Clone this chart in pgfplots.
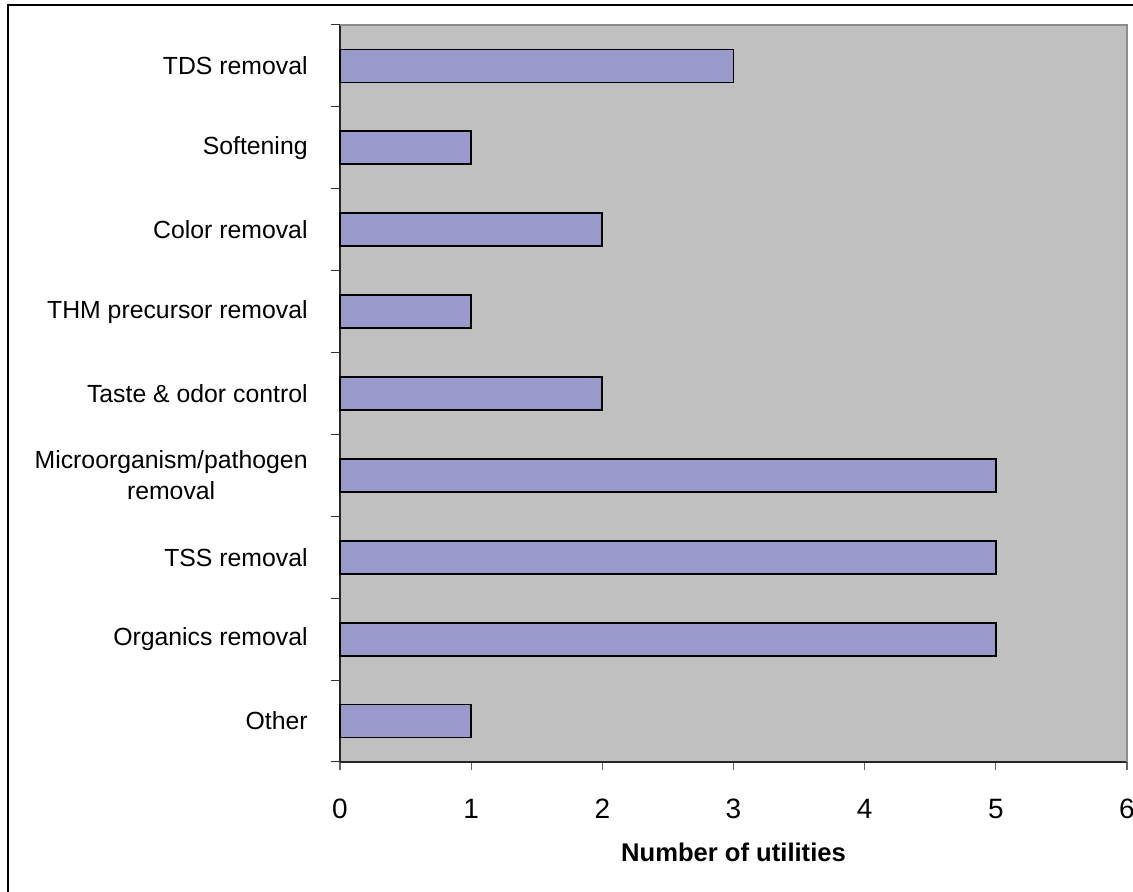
\documentclass[border=0pt]{standalone}
\usepackage{pgfplots}
\pgfplotsset{compat=1.18}
\usepackage{fontspec}
\setmainfont{Liberation Sans}
\definecolor{barfill}{RGB}{153,153,204}
\definecolor{plotbg}{RGB}{192,192,192}
\begin{document}
\begin{tikzpicture}
\useasboundingbox (-170pt,-65pt) rectangle (396.5pt,381pt);
\begin{axis}[
  at={(0,0)}, anchor=south west,
  scale only axis,
  width=393.5pt, height=368.5pt,
  xbar, bar width=0.403,
  xmin=0, xmax=6,
  ymin=0.5, ymax=9.5,
  axis x line*=bottom, axis y line*=left,
  axis line style={-, black!85, line width=0.8pt},
  axis background/.style={fill=plotbg},
  /pgf/number format/assume math mode=true,
  xtick={0,1,2,3,4,5,6},
  ytick={1,...,9},
  yticklabels={Other,Organics removal,TSS removal,{Microorganism/pathogen\\removal},Taste \& odor control,THM precursor removal,Color removal,Softening,TDS removal},
  minor ytick={0.5,1.5,...,9.5},
  tick align=outside,
  major tick length=4pt,
  minor tick length=4.5pt,
  major y tick style={draw=none},
  minor y tick style={draw=black!80, line width=0.5pt},
  major x tick style={draw=black!60, line width=0.6pt},
  xticklabel style={anchor=north, inner sep=0pt, yshift=-14.5pt, font=\fontsize{14}{16}\selectfont},
  yticklabel style={anchor=east, inner sep=0pt, xshift=-12pt, align=center, font=\fontsize{12.4}{15.5}\selectfont},
  xlabel={\textbf{Number of utilities}},
  xlabel style={at={(rel axis cs:0.5,0)}, anchor=base, inner sep=0pt, yshift=-49.5pt, font=\fontsize{12.8}{15}\selectfont},
  clip=false,
  after end axis/.code={\draw[gray!90, line width=0.8pt] (rel axis cs:0,1) -- (rel axis cs:1,1) -- (rel axis cs:1,0);},
]
\addplot[fill=barfill, draw=black, line width=0.9pt] coordinates {
  (1,1) (5,2) (5,3) (5,4) (2,5) (1,6) (2,7) (1,8) (3,9)
};
\end{axis}
\draw[black, line width=1.1pt] (-166pt,-80pt) -- (-166pt,378.5pt) -- (420pt,378.5pt);
\end{tikzpicture}
\end{document}
